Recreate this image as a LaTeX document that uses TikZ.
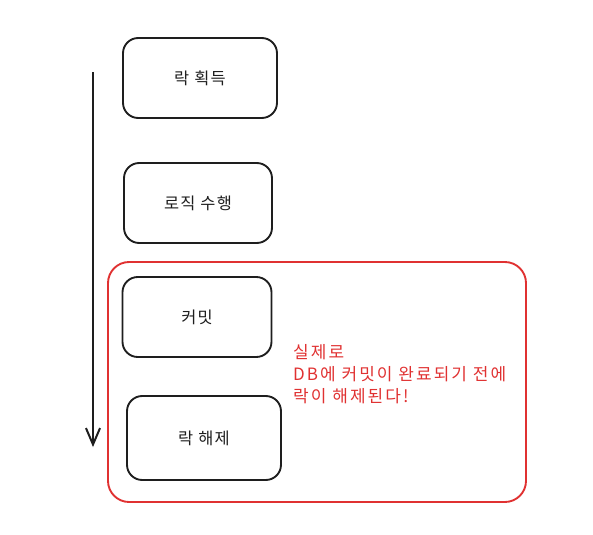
\documentclass[tikz,border=0pt]{standalone}
\usepackage{fontspec}
\setmainfont{Noto Sans CJK KR}
\usetikzlibrary{arrows.meta}

\definecolor{inkblack}{HTML}{1E1E1E}
\definecolor{inkred}{HTML}{E03131}

\tikzset{
  stepbox/.style={draw=inkblack, line width=1.6pt, rounded corners=13pt, fill=white,
    text=inkblack, font=\fontsize{14}{16}\selectfont\addfontfeatures{LetterSpace=8}},
  redbox/.style={draw=inkred, line width=1.6pt, rounded corners=18pt},
}

\begin{document}
\begin{tikzpicture}[x=0.03cm, y=-0.03cm]
            \useasboundingbox (0,0) rectangle (593,534);
            % red frame around commit and unlock
            \draw[redbox] (108,262) rectangle (526,502);
            % steps
            \node[stepbox, minimum width=154*0.03cm, minimum height=80*0.03cm] (lock) at (200,78) {락 획득};
            \node[stepbox, minimum width=148*0.03cm, minimum height=80*0.03cm] (logic) at (198,203) {로직 수행};
            \node[stepbox, minimum width=149*0.03cm, minimum height=80*0.03cm] (commit) at (197,317) {커밋};
            \node[stepbox, minimum width=154*0.03cm, minimum height=84*0.03cm] (unlock) at (204,438) {락 해제};

            % time arrow
            \coordinate (tstart) at (93,72);
            \coordinate (tend) at (93,447);
            \draw[inkblack, line width=1.7pt, -{Straight Barb[length=14pt, width=12pt]}] (tstart) -- (tend);

            % note
            \node[anchor=north west, align=left, text=inkred, inner sep=0pt,
                  font=\fontsize{14.5}{19}\selectfont\addfontfeatures{LetterSpace=12}] (note) at (293,344)
                  {실제로\\DB에 커밋이 완료되기 전에\\락이 해제된다!};
        \end{tikzpicture}
\end{document}
